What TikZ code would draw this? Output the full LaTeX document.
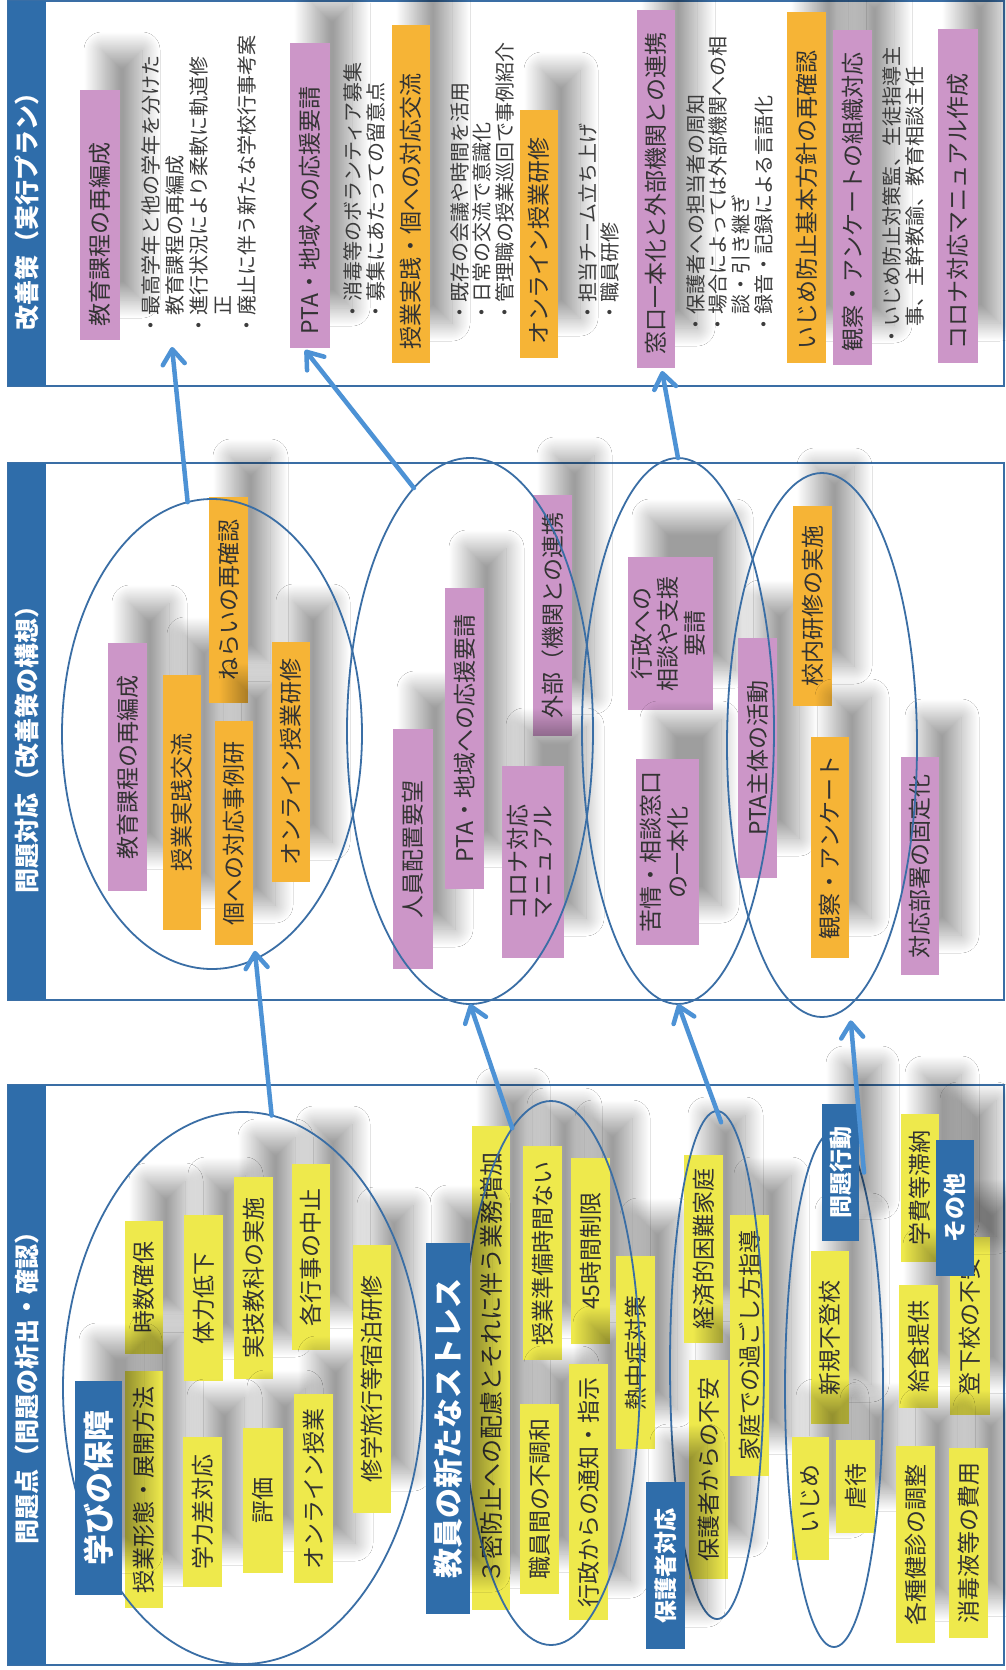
\documentclass[tikz,border=0pt]{standalone}
\usepackage{fontspec}
\setmainfont{Noto Sans CJK JP}
\usepackage{graphicx}
\usetikzlibrary{shapes.geometric,arrows.meta,shadows.blur}

\definecolor{frame}{RGB}{58,110,165}
\definecolor{hdr}{RGB}{47,109,170}
\definecolor{arrowc}{RGB}{77,146,213}
\definecolor{pinkc}{RGB}{204,150,200}
\definecolor{orangec}{RGB}{246,180,54}
\definecolor{yellowc}{RGB}{238,233,76}
\definecolor{txt}{RGB}{51,51,51}
\definecolor{note}{RGB}{60,60,60}

% text turned to read upwards
\newcommand{\vt}[1]{\rotatebox{90}{#1}}
\newcommand{\vtab}[2]{\rotatebox{90}{\begin{tabular}{@{}#1@{}}#2\end{tabular}}}

% box given by its corners: name, style, x1, y1, x2, y2, content
\newcommand{\bx}[7]{%
  \node[#2, minimum width={(#5-#3)*1pt}, minimum height={(#6-#4)*1pt}]
    (#1) at ({(#3+#5)/2},{(#4+#6)/2}) {#7};}
% same, text starting at the lower end of the box
\newcommand{\bxl}[7]{%
  \bx{#1}{#2}{#3}{#4}{#5}{#6}{\rotatebox{90}{\makebox[\dimexpr #6pt-#4pt-28pt\relax][l]{#7}}}}

\tikzset{
  panel/.style={rectangle, draw=frame, line width=2.4pt, fill=white, inner sep=0pt},
  hbar/.style={rectangle, fill=hdr, draw=none, inner sep=0pt},
  htext/.style={text=white, font=\fontsize{25}{28}\selectfont\bfseries, inner sep=0pt},
  card/.style={rectangle, draw=none, inner sep=0pt, outer sep=0pt, text=txt,
    font=\fontsize{23}{25}\selectfont,
    blur shadow={shadow xshift=22pt, shadow yshift=40pt, shadow blur radius=18pt,
      shadow blur steps=40, shadow opacity=38}},
  pk/.style={card, fill=pinkc},
  og/.style={card, fill=orangec},
  yl/.style={card, fill=yellowc},
  tag/.style={card, fill=hdr, text=white, font=\fontsize{23}{26}\selectfont\bfseries},
  notes/.style={anchor=south west, inner sep=0pt, text=note},
  grp/.style={ellipse, draw=frame, line width=1.8pt, inner sep=0pt, outer sep=0pt},
  flow/.style={draw=arrowc, line width=4.5pt, line cap=round,
    -{Straight Barb[length=15pt,width=22pt,round]}},
}

\begin{document}
\begin{tikzpicture}[x=1pt,y=-1pt]
\useasboundingbox[fill=white] (0,0) rectangle (1006,1670);

% ---- three panels with their header bars
\bx{pan1}{panel}{8}{1}{1004}{386}{}
\bx{pan2}{panel}{8}{463}{1004}{1000}{}
\bx{pan3}{panel}{8}{1085}{1004}{1665}{}
\bx{hb1}{hbar}{8}{1}{46}{386}{}
\bx{hb2}{hbar}{8}{463}{46}{1000}{}
\bx{hb3}{hbar}{8}{1085}{46}{1665}{}
\node[htext] (t1) at (27,205) {\vt{改善策（実行プラン）}};
\node[htext] (t2) at (27,743) {\vt{問題対応（改善策の構想）}};
\node[htext] (t3) at (27,1382) {\vt{問題点（問題の析出・確認）}};

% ---- plans
\bxl{p1a}{pk}{80}{90}{120}{340}{教育課程の再編成}
\bxl{p1b}{pk}{290}{43}{330}{348}{PTA・地域への応援要請}
\bxl{p1c}{og}{392}{25}{430}{363}{授業実践・個への対応交流}
\bxl{p1d}{og}{520}{110}{558}{358}{オンライン授業研修}
\bxl{p1e}{pk}{637}{10}{675}{368}{窓口一本化と外部機関との連携}
\bxl{p1f}{og}{787}{12}{826}{363}{いじめ防止基本方針の再確認}
\bxl{p1g}{pk}{833}{30}{872}{365}{観察・アンケートの組織対応}
\bxl{p1h}{pk}{938}{29}{978}{363}{コロナ対応マニュアル作成}

\node[notes, font=\fontsize{20}{24}\selectfont] (b1) at (141,336)
  {\vtab{l}{・最高学年と他の学年を分けた\\　教育課程の再編成\\・進行状況により柔軟に軌道修\\　正\\・廃止に伴う新たな学校行事考案}};
\node[notes, font=\fontsize{20}{21}\selectfont] (b2) at (343,322)
  {\vtab{l}{・消毒等のボランティア募集\\・募集にあたっての留意点}};
\node[notes, font=\fontsize{20}{20}\selectfont] (b3) at (450,323)
  {\vtab{l}{・既存の会議や時間を活用\\・日常の交流で意識化\\・管理職の授業巡回で事例紹介}};
\node[notes, font=\fontsize{20}{20}\selectfont] (b4) at (578,323)
  {\vtab{l}{・担当チーム立ち上げ\\・職員研修}};
\node[notes, font=\fontsize{20}{20}\selectfont] (b5) at (686,335)
  {\vtab{l}{・保護者への担当者の周知\\・場合によっては外部機関への相\\　談・引き継ぎ\\・録音・記録による言語化}};
\node[notes, font=\fontsize{20}{22}\selectfont] (b6) at (882,347)
  {\vtab{l}{・いじめ防止対策監、生徒指導主\\　事、主幹教諭、教育相談主任}};

% ---- responses
\bx{q1}{pk}{108}{643}{147}{891}{\vt{教育課程の再編成}}
\bx{q2}{og}{163}{675}{201}{930}{\vt{授業実践交流}}
\bx{q4}{og}{209}{497}{248}{703}{\vt{ねらいの再確認}}
\bx{q3}{og}{215}{721}{253}{945}{\vt{個への対応事例研}}
\bx{q5}{og}{272}{642}{310}{882}{\vt{オンライン授業研修}}
\bx{q6}{pk}{393}{729}{433}{969}{\vt{人員配置要望}}
\bx{q7}{pk}{445}{588}{484}{889}{\vt{PTA・地域への応援要請}}
\bx{q9}{pk}{533}{495}{572}{736}{\vt{外部（機関との連携}}
\bx{q8}{pk}{502}{766}{564}{958}{\vtab{l}{コロナ対応\\マニュアル}}
\bx{q10}{pk, font=\fontsize{23}{24}\selectfont}{628}{557}{713}{710}{\vtab{c}{行政への\\相談や支援\\要請}}
\bx{q11}{pk, font=\fontsize{23}{26}\selectfont}{636}{759}{699}{945}{\vtab{c}{苦情・相談窓口\\の一本化}}
\bx{q12}{pk}{738}{638}{777}{878}{\vt{PTA主体の活動}}
\bx{q13}{og}{793}{506}{832}{706}{\vt{校内研修の実施}}
\bx{q14}{og}{811}{737}{849}{958}{\vt{観察・アンケート}}
\bx{q15}{pk}{901}{757}{939}{975}{\vt{対応部署の固定化}}

% ---- problems
\bx{r3}{yl}{125}{1221}{163}{1354}{\vt{時数確保}}
\bx{r2}{yl}{125}{1371}{163}{1608}{\vt{授業形態・展開方法}}
\bx{r5}{yl}{184}{1215}{223}{1381}{\vt{体力低下}}
\bx{r4}{yl}{183}{1437}{222}{1587}{\vt{学力差対応}}
\bx{r7}{yl}{234}{1177}{273}{1379}{\vt{実技教科の実施}}
\bx{r6}{yl}{243}{1428}{283}{1573}{\vt{評価}}
\bx{r9}{yl}{292}{1164}{330}{1350}{\vt{各行事の中止}}
\bx{r8}{yl}{294}{1394}{333}{1583}{\vt{オンライン授業}}
\bx{r10}{yl}{353}{1245}{391}{1513}{\vt{修学旅行等宿泊研修}}
\bx{r12}{yl, font=\fontsize{24}{26}\selectfont}{472}{1126}{510}{1610}{\vt{３密防止への配慮とそれに伴う業務増加}}
\bx{r13}{yl}{523}{1146}{562}{1360}{\vt{授業準備時間ない}}
\bx{r15}{yl}{520}{1404}{559}{1594}{\vt{職員間の不調和}}
\bx{r14}{yl}{571}{1158}{610}{1344}{\vt{45時間制限}}
\bx{r16}{yl}{569}{1364}{608}{1620}{\vt{行政からの通知・指示}}
\bx{r17}{yl}{616}{1256}{655}{1449}{\vt{熱中症対策}}
\bx{r19}{yl}{684}{1155}{723}{1343}{\vt{経済的困難家庭}}
\bx{r20}{yl}{689}{1360}{728}{1579}{\vt{保護者からの不安}}
\bx{r21}{yl}{730}{1215}{769}{1476}{\vt{家庭での過ごし方指導}}
\bx{r23}{yl}{811}{1251}{849}{1424}{\vt{新規不登校}}
\bx{r24}{yl}{792}{1437}{829}{1560}{\vt{いじめ}}
\bx{r25}{yl}{836}{1440}{875}{1533}{\vt{虐待}}
\bx{r26}{yl}{901}{1114}{939}{1262}{\vt{学費等滞納}}
\bx{r28}{yl}{899}{1285}{938}{1408}{\vt{給食提供}}
\bx{r29}{yl}{950}{1237}{990}{1415}{\vt{登下校の不安}}
\bx{r30}{yl}{896}{1446}{935}{1643}{\vt{各種健診の調整}}
\bx{r31}{yl}{949}{1448}{988}{1638}{\vt{消毒液等の費用}}

% ---- groupings
\node[grp, minimum width=300pt, minimum height=470pt] (e1) at (212,734) {};
\node[grp, minimum width=246pt, minimum height=546pt] (e2) at (470,731) {};
\node[grp, minimum width=192pt, minimum height=546pt] (e3) at (678,731) {};
\node[grp, minimum width=190pt, minimum height=544pt] (e4) at (822,745) {};
\node[grp, minimum width=360pt, minimum height=552pt] (e5) at (243,1388) {};
\node[grp, minimum width=178pt, minimum height=544pt] (e6) at (551,1373) {};
\node[grp, minimum width=94pt, minimum height=508pt] (e7) at (717,1365) {};
\node[grp, minimum width=98pt, minimum height=516pt] (e8) at (834,1389) {};

% ---- group titles
\bx{r1}{tag, font=\fontsize{31}{34}\selectfont\bfseries}{75}{1381}{122}{1595}{\vt{学びの保障}}
\bx{r11}{tag, font=\fontsize{30}{33}\selectfont\bfseries}{426}{1243}{470}{1614}{\vt{教員の新たなストレス}}
\bx{r18}{tag}{646}{1482}{685}{1649}{\vt{保護者対応}}
\bx{r22}{tag}{822}{1104}{859}{1241}{\vt{問題行動}}
\bx{r27}{tag}{936}{1140}{974}{1276}{\vt{その他}}

% ---- connectors
\coordinate (a5tip) at (172,347);
\draw[flow, shorten >=-8pt] (e5.84) -- (e1.-79);
\draw[flow] (e6.99) -- (e2.south);
\draw[flow, shorten <=-12pt] (e7.north) -- (e3.south);
\draw[flow, shorten >=15pt] ([xshift=5pt]r22.east) -- (e4.-84);
\draw[flow] (e1.96) -- (a5tip);
\draw[flow] (e2.103) -- ([xshift=-5pt,yshift=-2pt]p1b.south);
\draw[flow] (e3.north) -- ([xshift=6pt,yshift=-3pt]p1e.south);
\end{tikzpicture}
\end{document}
